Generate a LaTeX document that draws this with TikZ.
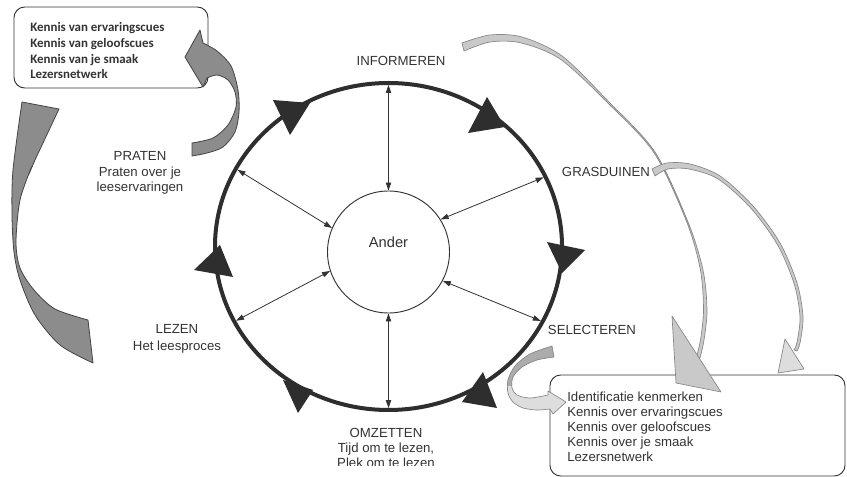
\documentclass[tikz,border=0pt]{standalone}
\usepackage{fontspec}
\setmainfont{Liberation Sans}
\newfontfamily\cuefont{Carlito}
\usetikzlibrary{shapes.geometric,arrows.meta}
\definecolor{ink}{HTML}{333333}
\definecolor{ringink}{HTML}{2E2E2E}
\definecolor{ribbondark}{HTML}{8C8C8C}
\definecolor{ribbonedge}{HTML}{444444}
\definecolor{ribbonlight}{HTML}{C9C9C9}
\definecolor{ribbonpale}{HTML}{DDDDDD}
\definecolor{ribbonmid}{HTML}{ACACAC}
\definecolor{paleedge}{HTML}{868686}

% outline of the small U-turn ribbon next to SELECTEREN
\newcommand\uturnribbon{(552,346)
  -- plot[smooth] coordinates {(552,346) (530,354) (515,366) (508,380) (508,393) (513,402) (523,408) (537,410) (550,409)}
  -- (553,414) -- (566,402) -- (548,391)
  -- plot[smooth] coordinates {(548,395) (530,398) (517,395) (512,388) (513,377) (522,367) (537,360) (554,357)}
  -- cycle}

\begin{document}
\begin{tikzpicture}[x=0.75pt,y=-0.75pt,
  lbl/.style={font=\fontsize{9.9}{11.6}\selectfont, text=ink, align=center, inner sep=0pt},
  cue/.style={font=\cuefont\bfseries\fontsize{9.7}{11.8}\selectfont, text=ink, align=left, inner sep=0pt, anchor=north west},
  cueb/.style={font=\fontsize{9.9}{11.25}\selectfont, text=ink, align=left, inner sep=0pt, anchor=north west},
  spoke/.style={draw=ink, line width=0.6pt, {Triangle[length=6pt,width=4pt]}-{Triangle[length=6pt,width=4pt]}, shorten >=1.4pt},
  ringhead/.style={fill=ringink},
  cardbox/.style={draw=ink, line width=0.7pt, rounded corners=8pt, inner sep=0pt},
  darkribbon/.style={fill=ribbondark, draw=ribbonedge, line width=0.6pt, line join=round},
  lightribbon/.style={fill=ribbonlight, draw=paleedge, line width=0.5pt, line join=round},
  palehead/.style={fill=ribbonpale, draw=paleedge, line width=0.5pt, line join=round},
]
\fill[white] (0,0) rectangle (847,477);
\useasboundingbox (0,0) rectangle (847,477);

% ---- the cycle: outer ring, centre circle and the spokes between them
\node[ellipse, draw=ringink, line width=3pt, minimum width=260.25pt, minimum height=245.25pt,
      inner sep=0pt, outer sep=0pt] (ring) at (388.5,246.5) {};
\node[circle, draw=ink, line width=0.7pt, minimum size=91.5pt, inner sep=0pt] (ander) at (388.5,252) {};
\node[lbl, font=\fontsize{11}{13}\selectfont] (andertxt) at (388.5,242) {Ander};

\draw[spoke] (ander.90) -- (ring.90);
\draw[spoke] (ander.270) -- (ring.270);
\draw[spoke] (ander.32) -- (ring.24);
\draw[spoke] (ander.-28) -- (ring.-26);
\draw[spoke] (ander.157) -- (ring.153);
\draw[spoke] (ander.198) -- (ring.206);

% heavy arrowheads on the ring (clockwise)
\fill[ringhead] (273,100) -- (310,103) -- (290,135) -- cycle;
\fill[ringhead] (487,97) -- (505,127) -- (468,133) -- cycle;
\fill[ringhead] (547,242) -- (585,250) -- (562,273) -- cycle;
\fill[ringhead] (483,372) -- (497,408) -- (462,402) -- cycle;
\fill[ringhead] (283,380) -- (313,390) -- (298,413) -- cycle;
\fill[ringhead] (220,245) -- (233,277) -- (194,270) -- cycle;

% ---- phase labels
\node[lbl] (informeren) at (401,61) {INFORMEREN};
\node[lbl] (grasduinen) at (606,172) {GRASDUINEN};
\node[lbl] (selecteren) at (592,330) {SELECTEREN};
\node[lbl] (praten) at (140,173) {PRATEN\\Praten over je\\leeservaringen};
\node[lbl, font=\fontsize{9.9}{12.6}\selectfont] (lezen) at (177,339) {LEZEN\\Het leesproces};
\begin{scope}
  \clip (330,420) rectangle (445,465.5);
  \node[lbl, font=\fontsize{9.9}{11.4}\selectfont] (omzetten) at (386,448) {OMZETTEN\\Tijd om te lezen,\\Plek om te lezen};
\end{scope}

% ---- knowledge boxes
\node[cardbox, minimum width=145.5pt, minimum height=60.75pt] (kennisvan) at (111,47.5) {};
\node[cue] (kennisvantxt) at (30,22.3) {Kennis van ervaringscues\\Kennis van geloofscues\\Kennis van je smaak\\Lezersnetwerk};

\node[cardbox, minimum width=221.25pt, minimum height=75.75pt] (kennisover) at (697.5,425.5) {};
\node[cueb] (kennisovertxt) at (567,392) {Identificatie kenmerken\\Kennis over ervaringscues\\Kennis over geloofscues\\Kennis over je smaak\\Lezersnetwerk};

% ---- dark ribbon arrows on the left
\path[darkribbon] (185,57) -- (200,30) -- (203,43)
  -- plot[smooth] coordinates {(203,43) (217,51) (231,66) (238,90) (239,112) (235,132) (223,147) (207,153) (192,156)}
  -- (192,143)
  -- plot[smooth] coordinates {(192,143) (213,138) (228,125) (236,107) (235,92) (228,80) (217,75) (207,78)}
  -- (203,87) -- cycle;

\path[darkribbon] (22,102) -- (59,109) -- (35,160) -- (29,174) -- (32,166)
  -- plot[smooth] coordinates {(32,166) (20,200) (16,242) (20,268) (34,290) (55,309) (88,320)}
  -- (93,363)
  -- plot[smooth] coordinates {(93,363) (60,345) (35,315) (20,280) (14,252) (12,215) (13,170) (22,102)}
  -- cycle;

% ---- light ribbon arrows on the right
\path[lightribbon] plot[smooth] coordinates {(462,43) (490,35) (522,37) (562,56) (608,101) (655,152) (688,222) (703,270) (707,310) (704,340) (700,358)}
  -- plot[smooth] coordinates {(696.5,357) (700.6,339.3) (703.5,310) (700.5,270.4) (686.9,222.4) (654,152.7) (606.9,102) (560,58.9) (520.6,42.8) (490,42) (464,51)}
  -- cycle;
\path[lightribbon] (672,316) -- (721,392) -- (676,383) -- cycle;

\path[lightribbon] plot[smooth] coordinates {(652,169) (667,163) (690,164) (720,176) (753,206) (780,243) (797,283) (803,317) (800,343) (797,351)}
  -- plot[smooth] coordinates {(794,350) (797,342.4) (800,317) (794.2,283.9) (777.5,244.7) (750.8,208.1) (718.2,179) (689,169) (668,169) (655,176)}
  -- cycle;
\path[palehead] (785,339) -- (804,369) -- (778,373) -- cycle;

\fill[ribbonpale] \uturnribbon;
\begin{scope}
  \clip (495,335) rectangle (560,386);
  \fill[ribbonmid] \uturnribbon;
\end{scope}
\draw[paleedge, line width=0.5pt, line join=round] \uturnribbon;
\end{tikzpicture}
\end{document}
